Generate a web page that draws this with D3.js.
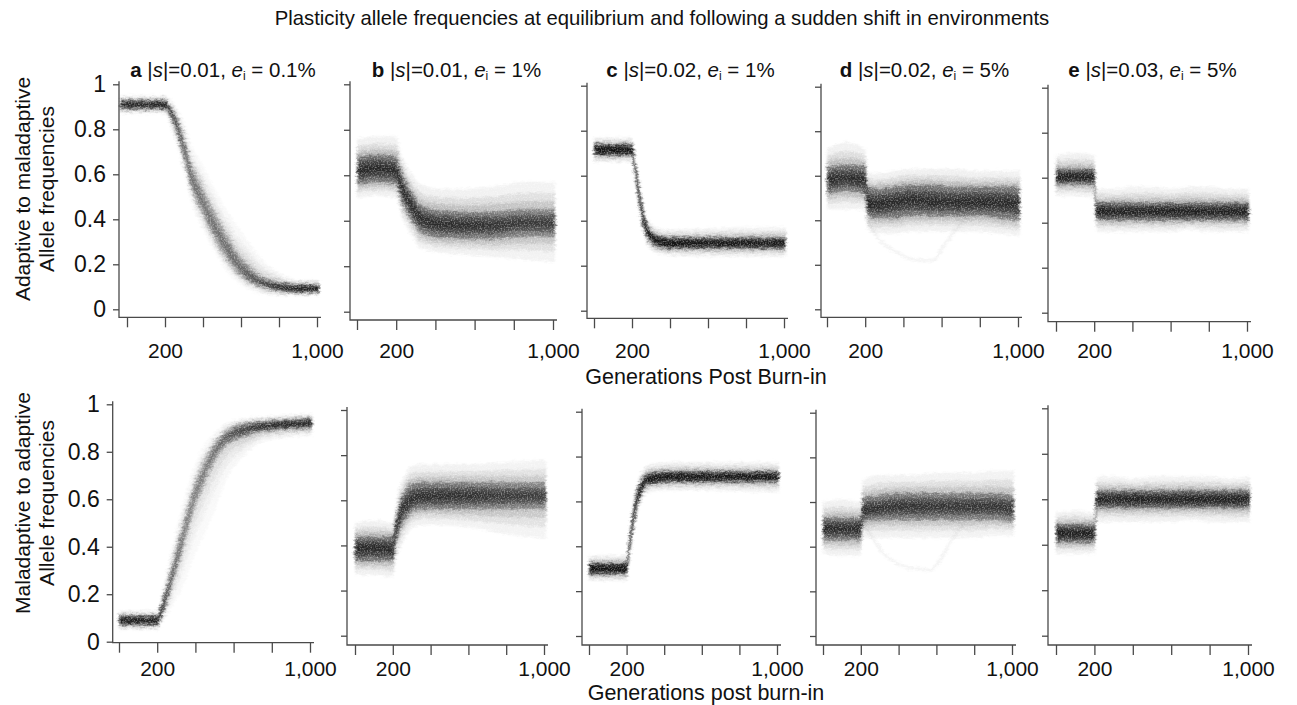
<!DOCTYPE html>
<html>
<head>
<meta charset="utf-8">
<script src="https://cdn.jsdelivr.net/npm/d3@7"></script>
<style>
body { margin: 0; background: #fff; }
text { font-family: "Liberation Sans", Arial, Helvetica, sans-serif; fill: #111; }
</style>
</head>
<body>
<div id="chart"></div>
<script>
// rows: [generation, lowest faint run, dense band low, middle, dense band high, highest faint run]
// top row: adaptive -> maladaptive
var topA = [
    [-35, .87, .89, .91, .93, .95], [100, .87, .89, .91, .93, .95], [200, .87, .89, .91, .93, .95],
    [230, .81, .85, .88, .90, .93], [265, .72, .77, .81, .85, .89], [300, .60, .66, .71, .77, .83],
    [335, .48, .54, .60, .66, .74], [385, .38, .44, .50, .57, .66], [440, .29, .34, .40, .47, .57],
    [505, .19, .24, .30, .37, .47], [580, .12, .16, .20, .26, .37], [640, .09, .12, .15, .20, .30],
    [700, .07, .10, .12, .15, .23], [800, .06, .08, .10, .12, .16], [900, .06, .075, .09, .11, .13],
    [1010, .06, .075, .09, .11, .13]
];
var topB = [
    [0, .50, .56, .62, .68, .76], [100, .51, .57, .63, .69, .77], [200, .50, .56, .62, .68, .77],
    [220, .44, .51, .57, .63, .71], [254, .37, .44, .50, .56, .64], [290, .32, .39, .45, .51, .59],
    [322, .28, .35, .41, .47, .56], [425, .26, .325, .385, .445, .54], [550, .25, .32, .38, .44, .54],
    [700, .24, .32, .38, .44, .55], [850, .23, .33, .39, .45, .57], [1010, .22, .33, .39, .45, .57]
];
var topC = [
    [0, .66, .69, .715, .74, .77], [100, .66, .69, .715, .74, .77], [200, .66, .69, .715, .74, .77],
    [215, .57, .61, .64, .67, .70], [242, .41, .45, .49, .53, .57], [260, .34, .375, .41, .445, .48],
    [277, .30, .33, .36, .39, .42], [300, .27, .305, .33, .355, .39], [330, .255, .285, .31, .335, .37],
    [400, .245, .275, .30, .325, .36], [600, .24, .275, .30, .325, .365], [800, .24, .275, .30, .325, .37],
    [1010, .24, .275, .30, .325, .37]
];
var topD = [
    [0, .45, .52, .58, .64, .72], [100, .45, .53, .59, .65, .75], [200, .45, .52, .58, .64, .72],
    [212, .36, .42, .48, .55, .62], [250, .34, .41, .47, .54, .61], [350, .34, .41, .48, .55, .62],
    [450, .35, .42, .49, .56, .63], [550, .35, .42, .48, .56, .63], [650, .35, .42, .48, .55, .63],
    [800, .35, .42, .48, .55, .62], [900, .34, .41, .48, .55, .62], [1010, .33, .40, .47, .55, .62]
];
var topE = [
    [0, .52, .57, .60, .64, .70], [100, .52, .57, .605, .64, .71], [200, .51, .57, .60, .64, .70],
    [212, .36, .415, .45, .49, .55], [300, .36, .41, .45, .49, .55], [400, .36, .41, .45, .49, .56],
    [500, .36, .41, .45, .49, .56], [600, .36, .41, .45, .49, .55], [700, .37, .41, .45, .49, .56],
    [800, .36, .41, .45, .49, .56], [900, .36, .41, .45, .49, .55], [1010, .36, .41, .45, .49, .55]
];
// bottom row: maladaptive -> adaptive
var botA = [
    [0, .05, .07, .09, .11, .13], [100, .05, .07, .09, .11, .13], [200, .05, .07, .09, .11, .13],
    [225, .08, .11, .14, .17, .20], [250, .11, .16, .20, .24, .30], [285, .16, .25, .30, .35, .42],
    [320, .21, .34, .40, .46, .54], [355, .27, .44, .50, .56, .64], [390, .35, .54, .60, .66, .73],
    [440, .44, .64, .70, .76, .82], [500, .55, .75, .80, .84, .88], [560, .68, .82, .86, .89, .92],
    [650, .78, .86, .89, .92, .94], [780, .85, .89, .91, .93, .95], [1010, .87, .90, .92, .94, .96]
];
var botB = [
    [0, .27, .33, .38, .44, .50], [100, .27, .33, .39, .44, .51], [200, .26, .33, .38, .44, .50],
    [215, .32, .40, .46, .52, .58], [240, .39, .47, .54, .60, .67], [270, .44, .52, .58, .65, .72],
    [293, .47, .54, .60, .67, .75], [350, .49, .56, .615, .68, .76], [450, .49, .56, .62, .68, .76],
    [600, .48, .56, .62, .68, .76], [800, .45, .56, .62, .68, .77], [1010, .43, .56, .62, .68, .78]
];
var botC = [
    [0, .245, .275, .30, .325, .36], [100, .245, .275, .30, .325, .36], [200, .245, .275, .30, .325, .36],
    [215, .33, .36, .40, .44, .48], [235, .44, .48, .52, .56, .60], [255, .53, .57, .61, .645, .68],
    [271, .58, .62, .65, .68, .72], [290, .62, .655, .68, .705, .745], [306, .635, .67, .695, .72, .76],
    [350, .645, .68, .705, .73, .77], [450, .65, .685, .71, .735, .775], [600, .65, .685, .71, .735, .775],
    [800, .645, .685, .71, .735, .775], [1010, .64, .685, .71, .735, .775]
];
var botD = [
    [0, .37, .43, .48, .53, .60], [100, .36, .43, .48, .53, .61], [200, .36, .43, .48, .53, .60],
    [212, .44, .51, .56, .62, .70], [300, .44, .52, .57, .63, .72], [400, .44, .52, .58, .64, .72],
    [500, .44, .52, .58, .64, .72], [566, .44, .52, .58, .64, .73], [650, .44, .52, .58, .64, .73],
    [800, .44, .52, .58, .64, .73], [900, .45, .52, .58, .64, .74], [1010, .45, .51, .57, .63, .74]
];
var botE = [
    [0, .36, .41, .45, .49, .54], [100, .36, .41, .45, .49, .55], [200, .36, .41, .45, .49, .54],
    [212, .50, .56, .60, .64, .70], [300, .50, .56, .60, .64, .70], [400, .50, .56, .60, .64, .69],
    [500, .50, .56, .60, .64, .70], [600, .50, .56, .60, .64, .70], [700, .51, .56, .60, .64, .70],
    [800, .50, .56, .60, .64, .70], [900, .50, .56, .60, .64, .69], [1010, .50, .56, .60, .64, .70]
];
// single stray runs that wander off the bundle in panel d
var topDStray = [[214, .40], [260, .33], [380, .25], [470, .22], [555, .22], [607, .28], [677, .36], [740, .42]];
var botDStray = [[220, .50], [320, .37], [407, .32], [500, .30], [566, .295], [620, .34], [673, .42], [740, .50]];

var letters = ['a', 'b', 'c', 'd', 'e'];
var sValues = ['0.01', '0.01', '0.02', '0.02', '0.03'];
var eValues = ['0.1%', '1%', '1%', '5%', '5%'];
var yTicks = [0, 0.2, 0.4, 0.6, 0.8, 1];
var yTickLabels = ['0', '0.2', '0.4', '0.6', '0.8', '1'];
var xTicks = [0, 200, 400, 600, 800, 1000];
var xTickLabels = {200: '200', 1000: '1,000'};
var rowLabels = [['Adaptive to maladaptive', 'Allele frequencies'], ['Maladaptive to adaptive', 'Allele frequencies']];
var xTitles = ['Generations Post Burn-in', 'Generations post burn-in'];
var mainTitle = 'Plasticity allele frequencies at equilibrium and following a sudden shift in environments';

var panelData = [topA, topB, topC, topD, topE, botA, botB, botC, botD, botE];
var strays = {3: topDStray, 8: botDStray};

// where each panel sits on the page
var layout = [
    {axisX: 119, x0: 127, x1: 317, y1: 84.3, y0: 309.3, axisY: 317.3},
    {axisX: 350, x0: 357, x1: 553, y1: 84.3, y0: 311.7, axisY: 320},
    {axisX: 587, x0: 594, x1: 784, y1: 85.7, y0: 310.7, axisY: 318.3},
    {axisX: 821, x0: 827, x1: 1018, y1: 86.7, y0: 309.3, axisY: 317.3},
    {axisX: 1048, x0: 1056, x1: 1247, y1: 87.7, y0: 312.7, axisY: 321.7},
    {axisX: 112.7, x0: 119, x1: 310, y1: 404.3, y0: 641.7, axisY: 642.7},
    {axisX: 347, x0: 355, x1: 544, y1: 410, y0: 635.7, axisY: 645},
    {axisX: 582, x0: 589, x1: 777, y1: 411.7, y0: 636, axisY: 645},
    {axisX: 816, x0: 823, x1: 1012, y1: 412.7, y0: 636, axisY: 645},
    {axisX: 1048, x0: 1056, x1: 1248, y1: 408.3, y0: 635.7, axisY: 645}
];
var rowLabelBase = [358, 676];
// how dark the bundle of runs gets in each panel
var ink = [1.7, 1.4, 2.0, 1.45, 1.65, 1.7, 1.45, 2.0, 1.45, 1.65];

var width = 1297;
var height = 705;
var axisColor = '#4a4a4a';

var svg = d3.select('#chart')
    .append('svg')
    .attr('width', width)
    .attr('height', height);

var defs = svg.append('defs');
var grain = defs.append('filter')
    .attr('id', 'grain')
    .attr('x', '-5%').attr('y', '-10%')
    .attr('width', '110%').attr('height', '120%');
grain.append('feGaussianBlur')
    .attr('in', 'SourceGraphic').attr('stdDeviation', 1).attr('result', 'soft');
grain.append('feTurbulence')
    .attr('type', 'fractalNoise').attr('baseFrequency', '0.18 0.45')
    .attr('numOctaves', 2).attr('seed', 4).attr('result', 'warp');
grain.append('feDisplacementMap')
    .attr('in', 'soft').attr('in2', 'warp').attr('scale', 5)
    .attr('xChannelSelector', 'R').attr('yChannelSelector', 'G').attr('result', 'moved');
grain.append('feTurbulence')
    .attr('type', 'fractalNoise').attr('baseFrequency', '0.7')
    .attr('numOctaves', 1).attr('seed', 9).attr('result', 'fine');
grain.append('feColorMatrix')
    .attr('in', 'fine').attr('type', 'matrix')
    .attr('values', '0 0 0 0 0  0 0 0 0 0  0 0 0 0 0  1.2 0 0 0 0.35')
    .attr('result', 'fineA');
grain.append('feComposite')
    .attr('in', 'moved').attr('in2', 'fineA')
    .attr('operator', 'arithmetic')
    .attr('k1', 1).attr('k2', 0).attr('k3', 0).attr('k4', 0);

svg.append('text')
    .attr('x', 662)
    .attr('y', 25)
    .attr('text-anchor', 'middle')
    .style('font-size', '20.3px')
    .text(mainTitle);

// value at level t: -2 lowest run, -1 dense low, 0 middle, 1 dense high, 2 highest run
function level(d, t) {
    var cols = [d[1], d[2], d[3], d[4], d[5]];
    var p = t + 2;
    var k = Math.min(3, Math.floor(p));
    return cols[k] + (cols[k + 1] - cols[k]) * (p - k);
}

var layers = [
    {t: 2, a: 0.06}, {t: 1.6, a: 0.09}, {t: 1.3, a: 0.14},
    {t: 1, a: 0.3}, {t: 0.6, a: 0.3}, {t: 0.25, a: 0.26}
];

panelData.forEach(function(rows, i) {
    var L = layout[i];
    var row = i < 5 ? 0 : 1;
    var col = i % 5;
    var x = d3.scaleLinear().domain([0, 1000]).range([L.x0, L.x1]);
    var y = d3.scaleLinear().domain([0, 1]).range([L.y0, L.y1]);
    var g = svg.append('g');

    // thinner ink where the bundle spreads out
    var xs = rows.map(function(d) { return x(d[0]); });
    var spread = rows.map(function(d) { return d[5] - d[1]; });
    var narrow = d3.min(spread);
    var x0 = xs[0], x1 = xs[xs.length - 1];
    var grad = defs.append('linearGradient')
        .attr('id', 'ink' + i)
        .attr('gradientUnits', 'userSpaceOnUse')
        .attr('x1', x0).attr('x2', x1).attr('y1', 0).attr('y2', 0);
    rows.forEach(function(d, k) {
        grad.append('stop')
            .attr('offset', (xs[k] - x0) / (x1 - x0))
            .attr('stop-color', '#000')
            .attr('stop-opacity', Math.min(1, Math.pow(narrow / spread[k], 0.6)));
    });

    var runs = g.append('g').attr('filter', 'url(#grain)');
    layers.forEach(function(ly) {
        var a = ly.t <= 1 ? Math.min(0.72, ly.a * ink[i]) : ly.a;
        runs.append('path').datum(rows)
            .attr('d', d3.area()
                .curve(d3.curveMonotoneX)
                .x(function(d) { return x(d[0]); })
                .y0(function(d) { return y(level(d, -ly.t)); })
                .y1(function(d) { return y(level(d, ly.t)); }))
            .attr('fill', 'url(#ink' + i + ')')
            .attr('opacity', a);
    });
    if (strays[i]) {
        runs.append('path').datum(strays[i])
            .attr('d', d3.line()
                .curve(d3.curveMonotoneX)
                .x(function(d) { return x(d[0]); })
                .y(function(d) { return y(d[1]); }))
            .attr('fill', 'none')
            .attr('stroke', '#000')
            .attr('stroke-width', 2.5)
            .attr('opacity', 0.06);
    }

    // y axis
    var yAxis = d3.axisLeft(y)
        .tickValues(yTicks)
        .tickSize(6)
        .tickSizeOuter(0)
        .tickPadding(7)
        .tickFormat(function(d, k) { return col === 0 ? yTickLabels[k] : ''; });
    var ya = g.append('g')
        .attr('transform', 'translate(' + L.axisX + ',0)')
        .call(yAxis);
    ya.select('.domain').remove();
    ya.selectAll('line').attr('stroke', axisColor).attr('stroke-width', 1.3);
    ya.selectAll('text')
        .style('font-size', '23px')
        .style('font-family', '"Liberation Sans", Arial, sans-serif')
        .attr('fill', '#111');

    // x axis
    var pad = rowLabelBase[row] - L.axisY - 10 - 15;
    var xAxis = d3.axisBottom(x)
        .tickValues(xTicks)
        .tickSize(10)
        .tickSizeOuter(0)
        .tickPadding(pad)
        .tickFormat(function(d) { return xTickLabels[d] || ''; });
    var xa = g.append('g')
        .attr('transform', 'translate(0,' + L.axisY + ')')
        .call(xAxis);
    xa.select('.domain').remove();
    xa.selectAll('line').attr('stroke', axisColor).attr('stroke-width', 1.3);
    xa.selectAll('text')
        .style('font-size', '21px')
        .style('font-family', '"Liberation Sans", Arial, sans-serif')
        .attr('fill', '#111');

    // L-shaped frame
    g.append('path')
        .attr('d', 'M' + L.axisX + ',' + (L.y1 - 3) + 'V' + L.axisY + 'H' + (L.x1 + 4))
        .attr('fill', 'none')
        .attr('stroke', axisColor)
        .attr('stroke-width', 1.3);

    // panel heading
    if (row === 0) {
        var t = svg.append('text')
            .attr('x', (L.axisX + L.x1 + 4) / 2 + 3)
            .attr('y', 77)
            .attr('text-anchor', 'middle')
            .style('font-size', '20.5px');
        t.append('tspan').style('font-weight', 'bold').text(letters[col]);
        t.append('tspan').text(' |');
        t.append('tspan').style('font-style', 'italic').text('s');
        t.append('tspan').text('|=' + sValues[col] + ', ');
        t.append('tspan').style('font-style', 'italic').text('e');
        t.append('tspan').style('font-size', '12px').attr('dy', 3).text('i');
        t.append('tspan').attr('dy', -3).text(' = ' + eValues[col]);
    }
});

// row titles on the left
rowLabels.forEach(function(lines, r) {
    var cy = r === 0 ? 189 : 503;
    lines.forEach(function(line, k) {
        svg.append('text')
            .attr('transform', 'translate(' + (30 + k * 24) + ',' + cy + ') rotate(-90)')
            .attr('text-anchor', 'middle')
            .style('font-size', '21px')
            .text(line);
    });
});

// generation axis titles
xTitles.forEach(function(label, r) {
    svg.append('text')
        .attr('x', 706)
        .attr('y', r === 0 ? 384 : 700)
        .attr('text-anchor', 'middle')
        .style('font-size', '21.5px')
        .text(label);
});
</script>
</body>
</html>
